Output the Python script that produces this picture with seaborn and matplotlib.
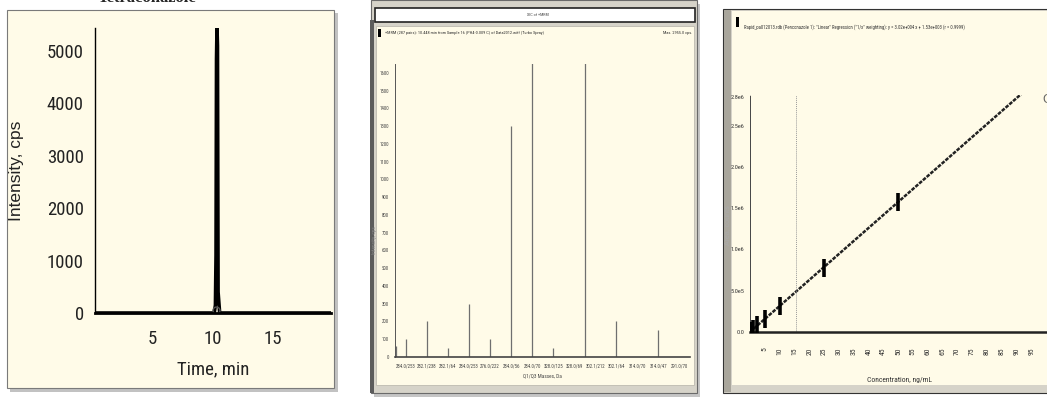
import numpy as np
import pandas as pd
import matplotlib
matplotlib.use("Agg")
import matplotlib.pyplot as plt
from matplotlib import font_manager as fm
from matplotlib.patches import Rectangle
from matplotlib.ticker import MultipleLocator, FixedLocator
import seaborn as sns

# ── data ────────────────────────────────────────────────
# panel 1 : chromatogram
chrom_time = [0.3, 10.15, 10.25, 10.30, 10.34, 10.38, 10.42, 10.47, 10.6, 19.8]
chrom_int = [0, 0, 150, 1100, 4850, 5450, 5100, 400, 0, 0]

# panel 2 : product ion spectrum (sticks)
mass_labels = ["284.0/253", "282.1/238", "282.1/64", "284.0/253",
               "276.0/222", "284.0/56", "284.0/70", "328.0/125",
               "328.0/69", "302.1/212", "302.1/64", "314.0/70",
               "314.0/47", "291.0/70"]
stick_pos = [-0.45, 0, 1, 2, 3, 4, 5, 6, 7, 8.5, 10, 12]
stick_height = [60, 100, 200, 50, 300, 100, 1300, 1700, 50, 1700, 200, 150]

# panel 3 : calibration curve
conc = [0.5, 1, 2.5, 5, 10, 25, 50]
area = [1.6e4, 3.3e4, 8.0e4, 1.6e5, 3.2e5, 7.7e5, 1.58e6]
area_ticks = [0, 5e5, 1e6, 1.5e6, 2e6, 2.5e6, 2.85e6]
area_labels = ["0.0", "5.0e5", "1.0e6", "1.5e6", "2.0e6", "2.5e6", "2.8e6"]

# ── style ───────────────────────────────────────────────
sns.set_theme(style="white")
plt.rcParams["font.family"] = ["Liberation Sans", "DejaVu Sans"]

# condensed face for the instrument-style numbers, if one is installed
_fonts = fm.fontManager.ttflist
_names = {f.name for f in _fonts}
NARROW_KW = dict(family=["Liberation Sans", "DejaVu Sans"])
for cand in ["Liberation Sans Narrow", "Roboto Condensed", "Open Sans Condensed",
             "Noto Sans Condensed", "DejaVu Sans Condensed"]:
    if cand in _names:
        NARROW_KW = dict(family=[cand, "DejaVu Sans"])
        break
else:
    if any(f.name == "DejaVu Sans" and f.stretch in ("condensed", 75, "semi-condensed")
           for f in _fonts):
        NARROW_KW = dict(family=["DejaVu Sans"], stretch="condensed")
    elif any(f.name == "Noto Sans" and f.stretch in ("condensed", 75) for f in _fonts):
        NARROW_KW = dict(family=["Noto Sans"], stretch="condensed")

CREAM = "#fffbe8"
W, H = 1047, 401


def narrow(lab):
    lab.set_family(NARROW_KW["family"])
    if "stretch" in NARROW_KW:
        lab.set_stretch(NARROW_KW["stretch"])


def box(x0, y0, x1, y1):
    return [x0 / W, 1 - y1 / H, (x1 - x0) / W, (y1 - y0) / H]


def rect(fig, x0, y0, x1, y1, **kw):
    kw.setdefault("zorder", -5)
    fig.add_artist(Rectangle((x0 / W, 1 - y1 / H), (x1 - x0) / W, (y1 - y0) / H,
                             transform=fig.transFigure, **kw))


def ftext(fig, x, y, s, **kw):
    return fig.text(x / W, 1 - y / H, s, **kw)


fig = plt.figure(figsize=(W / 100, H / 100), dpi=100, facecolor="white")

# ── frames ──────────────────────────────────────────────
# panel 1
rect(fig, 10, 13, 338, 392, facecolor="#9a9a9a", edgecolor="none", alpha=0.6, zorder=-6)
rect(fig, 7, 10, 334, 388, facecolor=CREAM, edgecolor="#7a7a7a", lw=0.8)
ftext(fig, 147, 2, "Tetraconazole", ha="center", va="baseline",
      fontsize=12, fontweight="bold", family=["Liberation Serif", "DejaVu Serif"])

# panel 2
rect(fig, 374, 4, 700, 397, facecolor="#8c8c8c", edgecolor="none", alpha=0.5, zorder=-6)
rect(fig, 371, 0, 697, 393, facecolor="#d6d3c9", edgecolor="#6a6a6a", lw=0.8)
rect(fig, 370, 20, 374, 393, facecolor="#5c5c5c", edgecolor="none", zorder=-4)
rect(fig, 375, 8, 695, 22, facecolor="white", edgecolor="#222222", lw=1.2, zorder=-4)
narrow(ftext(fig, 538, 15, "XIC of +MRM", ha="center", va="center", fontsize=3,
             color="#444444"))
rect(fig, 376, 26, 694, 385, facecolor=CREAM, edgecolor="#bdbab0", lw=0.6, zorder=-4)
rect(fig, 378, 29, 381, 37, facecolor="black", edgecolor="none", zorder=-3)
narrow(ftext(fig, 385, 33, "+MRM (287 pairs): 10.448 min from Sample 16 (PH4-0.009 C) of Data2012.wiff (Turbo Spray)",
             ha="left", va="center", fontsize=3.2, color="#333333"))
narrow(ftext(fig, 692, 33, "Max. 2955.0 cps.", ha="right", va="center", fontsize=3.2,
             color="#333333"))

# panel 3
rect(fig, 723, 9, 1048, 393, facecolor="#d6d3c9", edgecolor="#333333", lw=0.8)
rect(fig, 724, 10, 731, 392, facecolor="#a9a69c", edgecolor="none", zorder=-4)
rect(fig, 732, 11, 1048, 385, facecolor=CREAM, edgecolor="none", zorder=-4)
rect(fig, 736, 17, 739, 27, facecolor="black", edgecolor="none", zorder=-3)
narrow(ftext(fig, 744, 27, 'Rapid_pa012013.rdb (Penconazole 1): "Linear" Regression ("1/x" weighting): '
             'y = 3.02e+004 x + 1.53e+003 (r = 0.9999)',
             ha="left", va="center", fontsize=3.4, color="#333333"))
ftext(fig, 1042, 100, "C", ha="left", va="center", fontsize=9, color="#666666")

# ── panel 1 : chromatogram ─────────────────────────────
ax1 = fig.add_axes(box(95, 28, 331, 313))
ax1.set_facecolor("none")
sns.lineplot(x=chrom_time, y=chrom_int, estimator=None, sort=False,
             color="black", lw=2.6, ax=ax1)
ax1.plot([10.3], [60], marker="o", ms=5, mfc="none", mec="#555555", mew=1)
ax1.set_xlim(0.3, 19.8)
ax1.set_ylim(0, 5440)
ax1.xaxis.set_major_locator(FixedLocator([5, 10, 15]))
ax1.xaxis.set_minor_locator(MultipleLocator(1))
ax1.yaxis.set_major_locator(MultipleLocator(1000))
ax1.yaxis.set_minor_locator(MultipleLocator(200))
for s in ["top", "right"]:
    ax1.spines[s].set_visible(False)
ax1.spines["bottom"].set_linewidth(2)
ax1.spines["bottom"].set_color("black")
ax1.spines["left"].set_linewidth(1)
ax1.spines["left"].set_color("black")
ax1.tick_params(axis="both", which="major", direction="out", length=5, width=1,
                color="black", labelsize=13.5, labelcolor="#222222", pad=3)
ax1.tick_params(axis="x", which="major", pad=7)
ax1.tick_params(axis="both", which="minor", direction="out", length=2.5, width=0.8,
                color="black")
for lab in ax1.get_xticklabels() + ax1.get_yticklabels():
    narrow(lab)
ax1.set_xlabel("Time, min", fontsize=13.5, color="#222222")
narrow(ax1.xaxis.label)
ax1.xaxis.set_label_coords(0.5, -0.165)
ax1.set_ylabel("Intensity, cps", fontsize=12.5, color="#222222")
ax1.yaxis.set_label_coords(-0.30, 0.5)

# ── panel 2 : spectrum ─────────────────────────────────
ax2 = fig.add_axes(box(395, 64, 690, 357))
ax2.set_facecolor("none")
ax2.vlines(stick_pos, 0, stick_height, color="#6f6f6f", lw=0.9)
ax2.set_xlim(-0.52, 13.5)
ax2.set_ylim(0, 1650)
ax2.set_xticks(range(len(mass_labels)))
ax2.set_xticklabels(mass_labels)
ax2.yaxis.set_major_locator(MultipleLocator(100))
ax2.yaxis.set_minor_locator(MultipleLocator(20))
ax2.xaxis.set_minor_locator(MultipleLocator(0.25))
for s in ["top", "right"]:
    ax2.spines[s].set_visible(False)
ax2.spines["left"].set_color("#555555")
ax2.spines["left"].set_linewidth(0.7)
ax2.spines["bottom"].set_color("#444444")
ax2.spines["bottom"].set_linewidth(1.2)
ax2.tick_params(axis="both", which="major", direction="out", length=2.5, width=0.6,
                color="#555555", labelsize=3.5, labelcolor="#444444", pad=2)
ax2.tick_params(axis="both", which="minor", direction="out", length=1.2, width=0.4,
                color="#777777")
for lab in ax2.get_xticklabels() + ax2.get_yticklabels():
    narrow(lab)
ax2.set_xlabel("Q1/Q3 Masses, Da", fontsize=3.8, color="#444444", labelpad=4)
narrow(ax2.xaxis.label)
ax2.set_ylabel("Intensity, cps", fontsize=3.8, color="#888888", labelpad=4)
narrow(ax2.yaxis.label)
ax2.yaxis.set_label_coords(-0.06, 0.4)

# ── panel 3 : calibration curve ────────────────────────
ax3 = fig.add_axes(box(750, 95, 1049, 332))
ax3.set_facecolor("none")
ax3.set_xlim(0, 101)
sns.regplot(x=conc, y=area, ci=None, truncate=False, scatter=False,
            line_kws=dict(color="#222222", lw=1.8, ls=(0, (1.5, 0.5))), ax=ax3)
sns.scatterplot(x=conc, y=area, marker="|", s=160, linewidth=2.6,
                color="black", ax=ax3, zorder=5)
ax3.axvline(15.5, color="#9a9a9a", lw=0.7, ls=(0, (1, 1)))
ax3.set_xlim(0, 101)
ax3.set_ylim(0, 2.87e6)
ax3.set_yticks(area_ticks)
ax3.set_yticklabels(area_labels)
ax3.xaxis.set_major_locator(FixedLocator(list(range(5, 100, 5))))
ax3.xaxis.set_minor_locator(MultipleLocator(1))
ax3.yaxis.set_minor_locator(MultipleLocator(1e5))
for s in ["top", "right"]:
    ax3.spines[s].set_visible(False)
ax3.spines["left"].set_color("#444444")
ax3.spines["left"].set_linewidth(0.7)
ax3.spines["left"].set_linestyle((0, (3, 1)))
ax3.spines["bottom"].set_color("#222222")
ax3.spines["bottom"].set_linewidth(1.8)
ax3.tick_params(axis="both", which="major", direction="out", length=3, width=0.7,
                color="#333333", labelsize=4.5, labelcolor="#333333", pad=1)
ax3.tick_params(axis="x", which="major", labelrotation=90, pad=8, labelsize=5.5)
ax3.tick_params(axis="both", which="minor", direction="out", length=2, width=0.6,
                color="#333333")
for lab in ax3.get_xticklabels() + ax3.get_yticklabels():
    narrow(lab)
ax3.set_xlabel("Concentration, ng/mL", fontsize=5.5, color="#333333")
narrow(ax3.xaxis.label)
ax3.xaxis.set_label_coords(0.5, -0.19)
ax3.set_ylabel("Area, counts", fontsize=5, color="#aaaaaa")
ax3.yaxis.set_label_coords(-0.062, 0.45)

fig.savefig("out.png", dpi=100, facecolor="white")
